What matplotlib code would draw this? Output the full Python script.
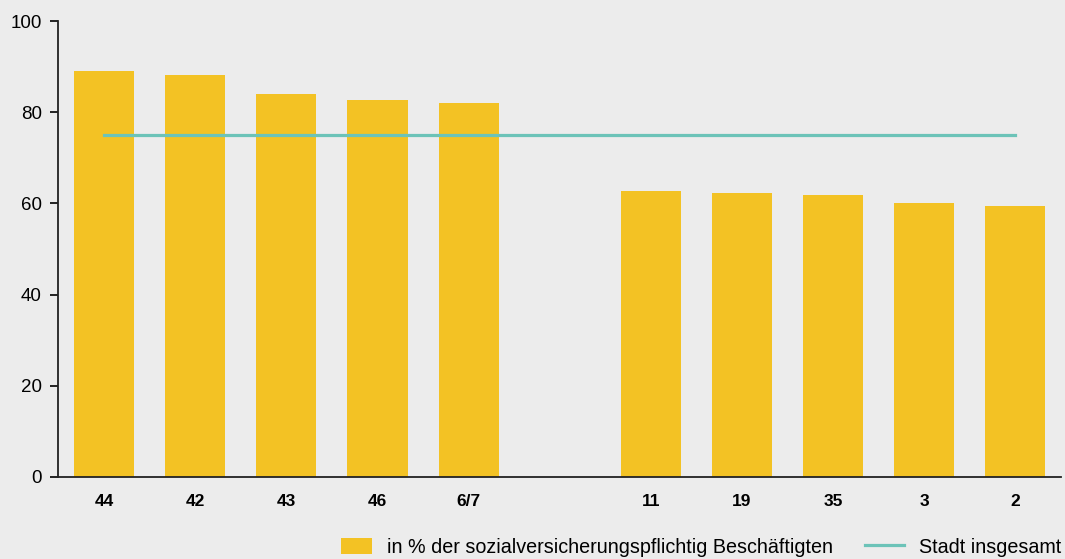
import numpy as np
import matplotlib
matplotlib.use("Agg")
import matplotlib.pyplot as plt
from matplotlib.patches import Patch, Rectangle
from matplotlib.lines import Line2D
from matplotlib.legend_handler import HandlerPatch

categories = ['44', '42', '43', '46', '6/7', '', '11', '19', '35', '3', '2']
values = [89.0, 88.1, 84.0, 82.7, 82.0, np.nan, 62.8, 62.2, 61.9, 60.1, 59.4]
stadt_insgesamt = 75.0
bar_label = 'in % der sozialversicherungspflichtig Beschäftigten'
line_label = 'Stadt insgesamt'
yticks = [0, 20, 40, 60, 80, 100]

plt.rcParams['font.family'] = ['Liberation Sans', 'DejaVu Sans']
bg = '#ececec'
bar_color = '#f3c224'
line_color = '#6cc3b8'

fig = plt.figure(figsize=(10.65, 5.59), dpi=100, facecolor=bg)
ax = fig.add_axes([0.0549, 0.1467, 0.9413, 0.8157], facecolor=bg)

x = np.arange(len(categories))
ax.bar(x, values, width=0.66, color=bar_color, zorder=2)
ax.plot([x[0], x[-1]], [stadt_insgesamt, stadt_insgesamt], color=line_color, lw=2.3, zorder=3)

ax.set_xlim(-0.5, len(categories) - 0.5)
ax.set_ylim(0, 100)
ax.set_yticks(yticks)
ax.set_yticklabels([str(t) for t in yticks], fontsize=13.5)
ax.set_xticks(x)
ax.set_xticklabels(categories, fontsize=12.5, fontweight='bold')
ax.tick_params(axis='x', length=0, pad=12)
ax.tick_params(axis='y', length=6, width=1.2, pad=6)
for s in ['top', 'right']:
    ax.spines[s].set_visible(False)
for s in ['left', 'bottom']:
    ax.spines[s].set_linewidth(1.3)
    ax.spines[s].set_color('#222222')


def small_patch(legend, orig_handle, xdescent, ydescent, width, height, fontsize):
    w = width * 0.78
    return Rectangle((-xdescent + (width - w), -ydescent), w, height)


handles = [Patch(facecolor=bar_color, edgecolor='none'),
           Line2D([0], [0], color=line_color, lw=2.3)]
fig.legend(handles, [bar_label, line_label], loc='lower right',
           bbox_to_anchor=(1.013, -0.028), ncol=2, frameon=False, fontsize=14.2,
           handlelength=2.0, handleheight=0.9, columnspacing=1.6, handletextpad=0.75,
           handler_map={Patch: HandlerPatch(patch_func=small_patch)})

fig.savefig('out.png', dpi=100, facecolor=bg)
